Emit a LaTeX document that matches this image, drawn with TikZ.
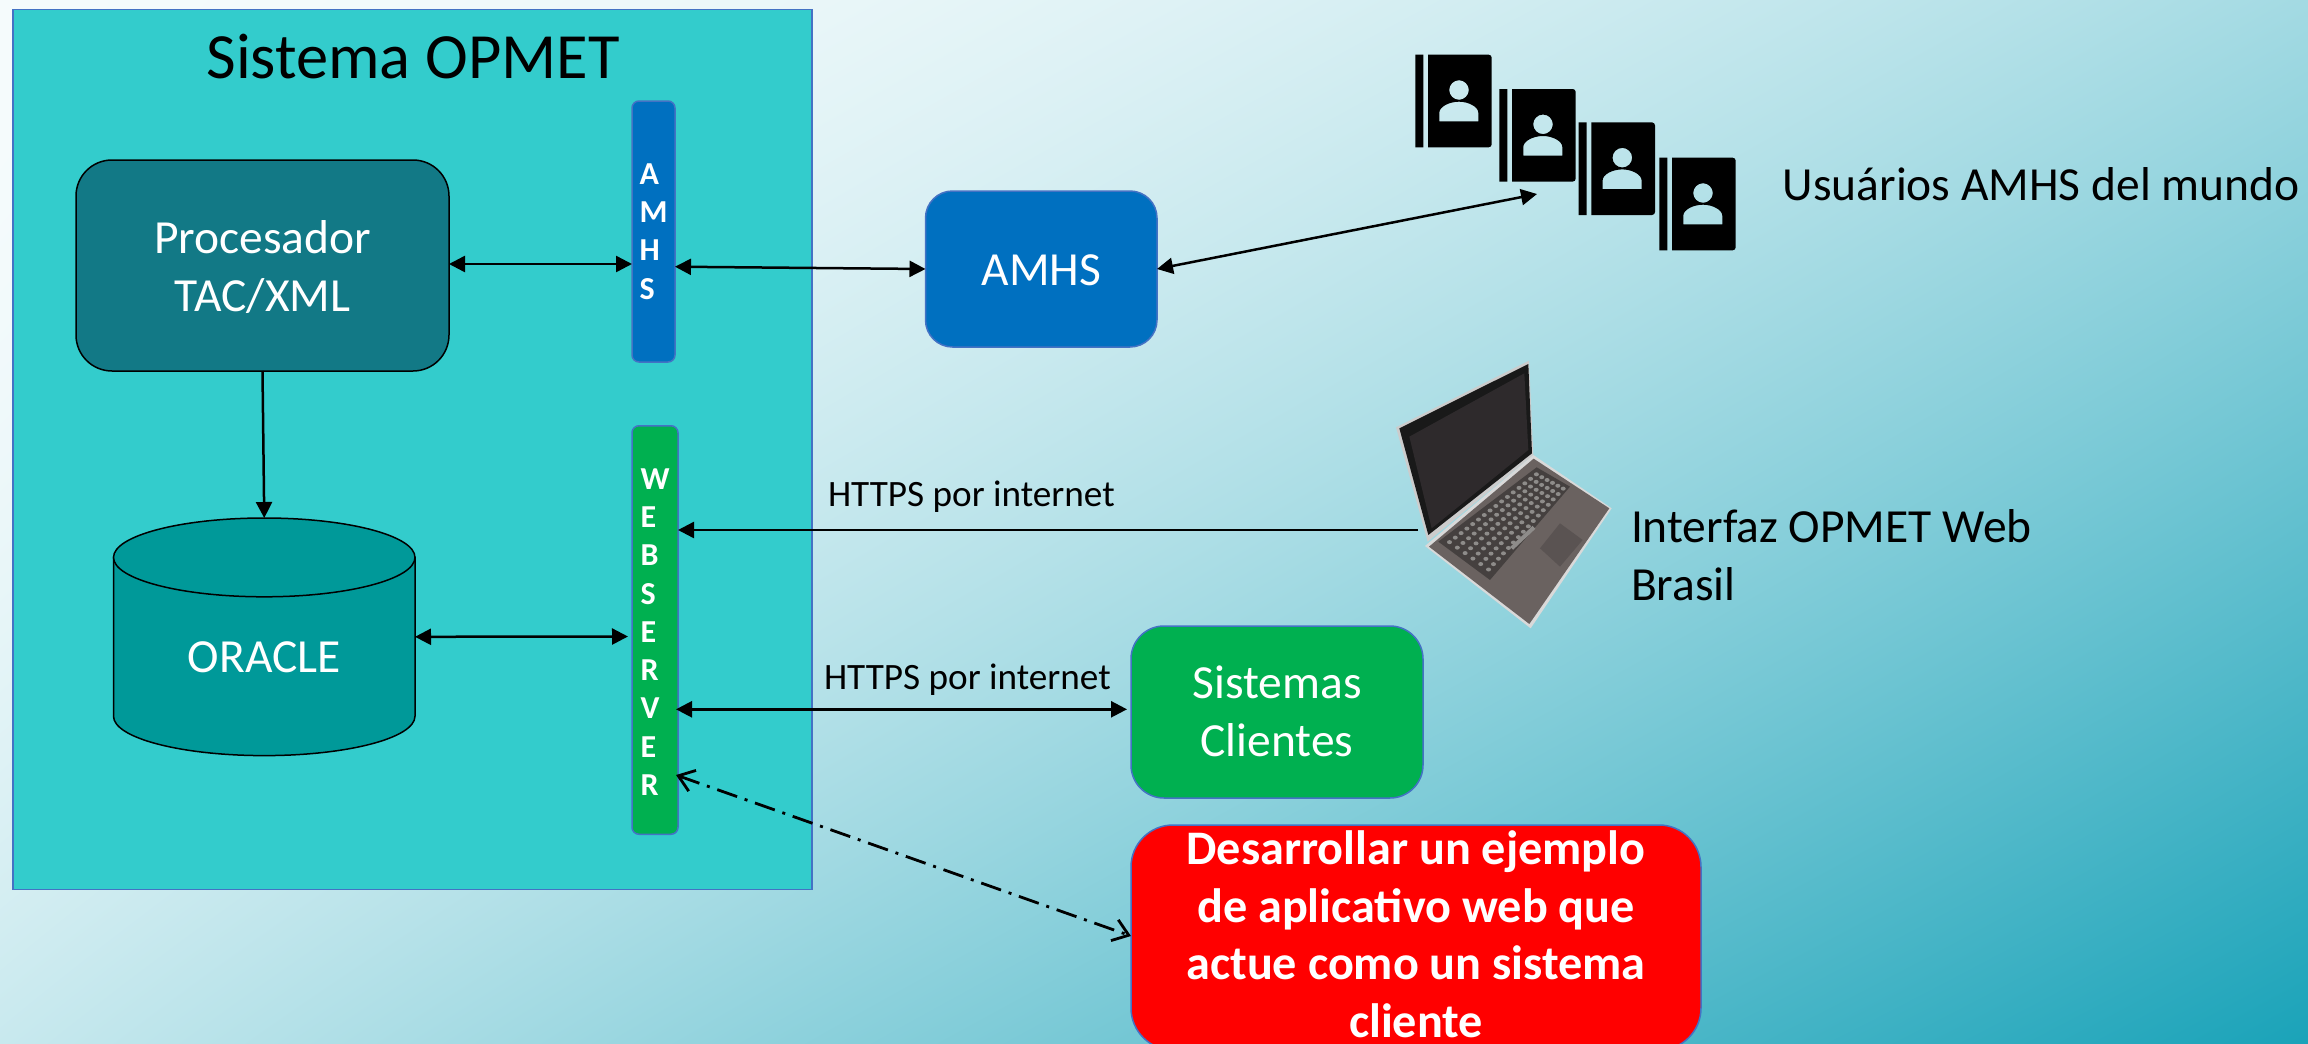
\documentclass[tikz,border=0pt]{standalone}
\usepackage{fontspec}
\setmainfont{Carlito}
\usetikzlibrary{arrows.meta,calc}
\definecolor{sysfill}{HTML}{33CCCC}
\definecolor{edgeblue}{HTML}{4472C4}
\definecolor{procfill}{HTML}{127986}
\definecolor{orafill}{HTML}{009999}
\definecolor{amhsblue}{HTML}{0070C0}
\definecolor{webgreen}{HTML}{00B050}
\definecolor{lapscreen}{HTML}{2E2A2C}
\definecolor{lapbody}{HTML}{6A6260}
\definecolor{lapkeys}{HTML}{45403F}
\definecolor{lappad}{HTML}{5A5352}
\definecolor{lapkey}{HTML}{8E8C8A}
\pgfdeclarefunctionalshading{bgfunc}{\pgfpoint{0bp}{0bp}}{\pgfpoint{100bp}{100bp}}{}{
  75 exch sub 50 div exch 25 sub 50 div exch
  1 index 82 mul neg 245 add
  1 index 45 mul sub
  2 index 2 index mul 92 mul sub
  2 index dup 1 exch sub mul
  2 index 1 exch sub mul 75 mul add
  1 index dup 1 exch sub mul
  3 index dup mul 0.8 mul 1 exch sub mul 50 mul add
  24 sub 221 div
  exch pop exch pop
  dup 221 mul 24 add 255 div exch
  dup 89 mul 162 add 255 div exch
  68 mul 184 add 255 div
}
\newcommand\placedtext[3]{\raisebox{#1pt}[0pt][0pt]{\begin{tabular}[b]{@{}#2@{}}#3\end{tabular}}}
\tikzset{
  boxbase/.style={inner sep=0pt,outer sep=0pt,text=white,line width=1.5pt,font=\fontsize{47.5}{57.5}\selectfont},
  procbox/.style={boxbase,draw=black,fill=procfill,rounded corners=36pt},
  bluebox/.style={boxbase,draw=edgeblue,fill=amhsblue,rounded corners=27pt},
  greenbox/.style={boxbase,draw=edgeblue,fill=webgreen,rounded corners=33pt},
  redbox/.style={boxbase,draw=edgeblue,fill=red,rounded corners=42pt,font=\fontsize{48.2}{57.5}\selectfont\bfseries},
  portbox/.style={inner sep=0pt,outer sep=0pt,text=white,line width=1.5pt,draw=edgeblue,rounded corners=7pt,font=\fontsize{32}{38.3}\selectfont\bfseries},
  blacktext/.style={inner sep=0pt,outer sep=0pt,text=black,anchor=base west,align=left},
  conn/.style={line width=2.5pt,draw=black},
  twoway/.style={conn,{Triangle[length=16pt,width=16pt]}-{Triangle[length=16pt,width=16pt]}},
  oneway/.style={conn,-{Triangle[length=16pt,width=16pt]}},
  dashway/.style={conn,line width=2.8pt,dash pattern=on 21pt off 8pt on 3pt off 8pt,{Straight Barb[length=15pt,width=22pt,line width=2.8pt]}-{Straight Barb[length=15pt,width=22pt,line width=2.8pt]}},
  usericon/.pic={
    \fill[even odd rule]
      (0,0) rectangle (8,92.6)
      (12.7,0) [rounded corners=3pt] -- (76.4,0) -- (76.4,92.6) [rounded corners=0pt] -- (12.7,92.6) -- cycle
      (43.7,35.3) circle[radius=9.8]
      (24,66.7) -- (24,58) .. controls (24,52) and (34,47) .. (43.7,47) .. controls (53,47) and (63,52) .. (63,58) -- (63,66.7) -- cycle;
  }
}
\begin{document}
\begin{tikzpicture}[x=1pt,y=-1pt]
\useasboundingbox (0,0) rectangle (2308,1044);
% background gradient
\shade[shading=bgfunc] (0,0) rectangle (2308,1044);
% main system panel
\node[draw=edgeblue,fill=sysfill,line width=1.5pt,minimum width=799pt,minimum height=880pt,inner sep=0pt,outer sep=0pt] (sistema) at (412.5,449.5) {};
\node[inner sep=0pt,font=\fontsize{64.5}{70}\selectfont,anchor=base] (titulo) at (413,78) {Sistema OPMET};
% inner components
\node[procbox,minimum width=373pt,minimum height=211pt] (proc) at (262.5,265.5)
  {\placedtext{-45.5}{c}{Procesador\\TAC/XML}};
\node[portbox,fill=amhsblue,minimum width=43pt,minimum height=261pt] (amhsport) at (653.5,231.5)
  {\placedtext{-67.5}{l}{A\\M\\H\\S}};
\node[portbox,fill=webgreen,minimum width=46pt,minimum height=408.5pt] (webport) at (655,630)
  {\placedtext{-165.5}{l}{W\\E\\B\\S\\E\\R\\V\\E\\R}};
% ORACLE cylinder
\draw[fill=orafill,draw=black,line width=1.5pt]
  (113.5,557.4) -- (113.5,716.2) arc[start angle=180,end angle=0,x radius=150.75,y radius=39.4]
  -- (415,557.4) -- cycle;
\draw[fill=orafill,draw=black,line width=1.5pt] (264.25,557.4) ellipse[x radius=150.75,y radius=39.4];
\node[inner sep=0pt,outer sep=0pt,minimum width=301.5pt,minimum height=237.6pt,text=white,font=\fontsize{47.5}{57.5}\selectfont] (oracle) at (264.25,636.8)
  {\placedtext{-36}{c}{ORACLE}};
% outer boxes
\node[bluebox,minimum width=231.5pt,minimum height=156pt] (amhs) at (1041.25,269)
  {\placedtext{-16}{c}{AMHS}};
\node[greenbox,minimum width=292pt,minimum height=172pt] (clientes) at (1277,712)
  {\placedtext{-44}{c}{Sistemas\\Clientes}};
\begin{scope}
  \clip (0,0) rectangle (2308,1044);
  \node[redbox,minimum width=570pt,minimum height=225pt] (ejemplo) at (1416,937.5)
    {\placedtext{-99.5}{c}{Desarrollar un ejemplo\\de aplicativo web que\\actue como un sistema\\cliente}};
\end{scope}
% user icons
\pic at (1415.3,54.7) {usericon};
\pic at (1499.3,89) {usericon};
\pic at (1578.6,122.4) {usericon};
\pic at (1659.3,157.7) {usericon};
\coordinate (usuarios) at (1537,194);
% laptop, in zoom units
\begin{scope}[shift={(1360,340)},x=.3333pt,y=-.3333pt]
  \fill[black!20!white] (108,262) -- (507,62) -- (520,345) -- (203,605) -- cycle;
  \fill[black!90!white] (118,265) -- (505,72) -- (516,340) -- (205,585) -- cycle;
  \fill[lapscreen] (148,290) -- (493,100) -- (505,330) -- (215,565) -- cycle;
  \fill[black!15!white] (195,618) -- (520,345) -- (755,505) -- (512,865) -- cycle;
  \fill[lapbody] (207,620) -- (521,356) -- (748,505) -- (508,852) -- cycle;
  \fill[lapkeys] (235,605) -- (530,382) -- (630,440) -- (390,720) -- cycle;
  \fill[lappad] (540,625) -- (600,550) -- (668,600) -- (600,680) -- cycle;
  \foreach \r in {0,...,5}{
    \foreach \c in {0,...,15}{
      \pgfmathsetmacro{\uu}{(\c+0.5)/16}
      \pgfmathsetmacro{\vv}{(\r+0.5)/6}
      \pgfmathsetmacro{\kx}{(1-\uu)*(1-\vv)*248+\uu*(1-\vv)*530+\uu*\vv*625+(1-\uu)*\vv*390}
      \pgfmathsetmacro{\ky}{(1-\uu)*(1-\vv)*605+\uu*(1-\vv)*392+\uu*\vv*442+(1-\uu)*\vv*705}
      \fill[lapkey] (\kx,\ky) ellipse[x radius=7.5,y radius=6];
    }
  }
  \draw[lapkey,line width=4pt] (455,625) -- (522,562);
\end{scope}
\coordinate (portatil) at (1418,530);
% connectors
\draw[twoway] ([yshift=1.5pt]proc.east) -- ([yshift=-32.5pt]amhsport.west);
\draw[twoway] ([yshift=-35.2pt]amhsport.east) -- (amhs.west);
\draw[twoway] (amhs.east) -- (usuarios);
\draw[oneway] (proc.south) -- (oracle.north);
\draw[twoway] (oracle.east) -- ([xshift=-4pt,yshift=-6.5pt]webport.west);
\draw[oneway] (portatil) -- (webport.east |- portatil);
\draw[twoway] ([xshift=-2pt,yshift=-79.3pt]webport.east) -- ([xshift=-4pt,yshift=2.7pt]clientes.west);
\draw[dashway] ([xshift=-2pt,yshift=-145pt]webport.east) -- ([yshift=1.5pt]ejemplo.west);
% plain labels
\node[blacktext,font=\fontsize{37.2}{45}\selectfont] (https1) at (828,506) {HTTPS por internet};
\node[blacktext,font=\fontsize{37.2}{45}\selectfont] (https2) at (824,689) {HTTPS por internet};
\node[blacktext,font=\fontsize{47.5}{57.5}\selectfont] (usrtext) at (1782.7,200) {Usuários AMHS del mundo};
\node[blacktext,font=\fontsize{47.5}{57.5}\selectfont] (webtext) at (1631,600) {Interfaz OPMET Web\\Brasil};
\end{tikzpicture}
\end{document}
